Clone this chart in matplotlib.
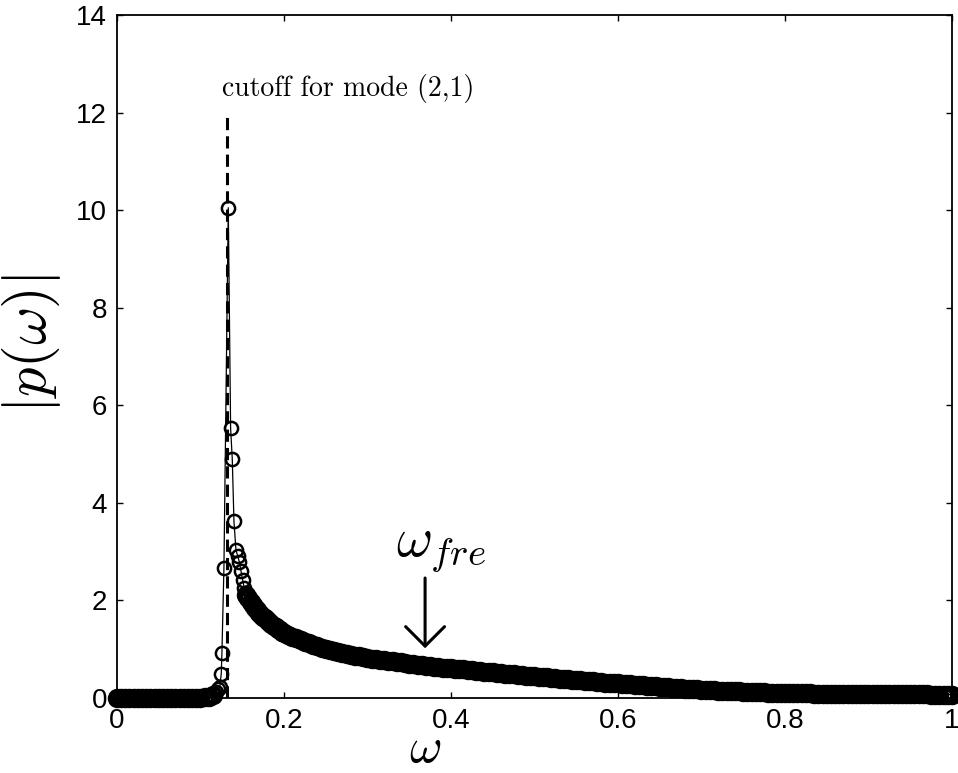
import matplotlib.pyplot as plt
import numpy as np

plt.rcParams["mathtext.fontset"] = "cm"

# flat part below cutoff, sampled every 0.005 from 0
p_flat = [0.0, 0.0, 0.0, 0.0, 0.0, 0.0, 0.0, 0.0, 0.0, 0.0,
          0.0, 0.0, 0.0, 0.0, 0.0, 0.0, 0.0, 0.0, 0.0, 0.0,
          0.01, 0.02, 0.03, 0.06]

# points around the resonance
w_peak = [0.118, 0.121, 0.123, 0.1249, 0.1257, 0.1281, 0.1333, 0.1361,
          0.1381, 0.1401, 0.1425, 0.1445, 0.1465, 0.1485, 0.1505, 0.1525]
p_peak = [0.12, 0.18, 0.22, 0.5, 0.93, 2.67, 10.05, 5.53,
          4.89, 3.62, 3.03, 2.92, 2.79, 2.6, 2.42, 2.25]

# steep part of the tail, every 0.0025 from 0.155
p_tail1 = [2.12, 2.04, 1.97, 1.91, 1.85, 1.80, 1.75, 1.71, 1.67, 1.63,
           1.59, 1.55, 1.51, 1.48, 1.45, 1.42, 1.39, 1.36, 1.33]

# slow decay, every 0.005 from 0.205
p_tail2 = [1.29, 1.25, 1.22, 1.18, 1.15, 1.12, 1.09, 1.06, 1.035, 1.01,
           0.99, 0.97, 0.95, 0.93, 0.91, 0.89, 0.87, 0.855, 0.84, 0.82,
           0.81, 0.795, 0.78, 0.77, 0.76, 0.75, 0.74, 0.73, 0.715, 0.70,
           0.69, 0.68, 0.67, 0.66, 0.65, 0.645, 0.635, 0.625, 0.62, 0.61,
           0.60, 0.59, 0.585, 0.575, 0.565, 0.555, 0.55, 0.54, 0.535, 0.53,
           0.52, 0.51, 0.50, 0.495, 0.485, 0.48, 0.47, 0.46, 0.455, 0.45,
           0.44, 0.43, 0.425, 0.415, 0.41, 0.40, 0.39, 0.385, 0.375, 0.37,
           0.36, 0.355, 0.345, 0.34, 0.33, 0.325, 0.315, 0.31, 0.305, 0.30,
           0.29, 0.285, 0.28, 0.27, 0.265, 0.26, 0.25, 0.245, 0.24, 0.23,
           0.225, 0.22, 0.215, 0.21, 0.20, 0.195, 0.19, 0.185, 0.18, 0.17,
           0.166, 0.162, 0.158, 0.154, 0.15, 0.146, 0.142, 0.138, 0.134, 0.13,
           0.127, 0.124, 0.121, 0.118, 0.115, 0.112, 0.11, 0.106, 0.103, 0.10,
           0.098, 0.097, 0.096, 0.095, 0.094, 0.093, 0.092, 0.091, 0.09, 0.09,
           0.089, 0.088, 0.087, 0.086, 0.085, 0.084, 0.083, 0.082, 0.081, 0.08,
           0.079, 0.079, 0.078, 0.078, 0.077, 0.077, 0.076, 0.076, 0.075, 0.075,
           0.074, 0.074, 0.073, 0.073, 0.072, 0.072, 0.071, 0.071, 0.07, 0.07]

w_flat = np.round(0.005 * np.arange(len(p_flat)), 4)
w_tail1 = np.round(0.155 + 0.0025 * np.arange(len(p_tail1)), 4)
w_tail2 = np.round(0.205 + 0.005 * np.arange(len(p_tail2)), 4)

w_dense = np.concatenate([w_flat, w_tail1, w_tail2])
p_dense = np.concatenate([p_flat, p_tail1, p_tail2])
w = np.concatenate([w_flat, w_peak, w_tail1, w_tail2])
p = np.concatenate([p_flat, p_peak, p_tail1, p_tail2])

w_cut = 0.1314
cut_top = 12
w_fre = 0.369

fig = plt.figure(figsize=(9.58, 7.73), dpi=100)
ax = fig.add_axes([0.1221, 0.097, 0.8716, 0.8836])

ax.vlines(w_cut, 0, cut_top, colors="k", linestyles=(0, (4, 2)), linewidth=2.2)
ax.plot(w, p, "-", color="k", lw=0.9, clip_on=False)
ax.plot(w_dense, p_dense, "o", color="k", ms=11, mfc="none", mew=3, clip_on=False)
ax.plot(w_peak, p_peak, "o", color="k", ms=9.5, mfc="none", mew=1.8, clip_on=False)

ax.text(0.1257, 12.34, "cutoff for mode (2,1)", fontfamily="cmr10",
        fontsize=20, va="baseline")
ax.annotate("", xy=(w_fre, 1.02), xytext=(w_fre, 2.46),
            arrowprops=dict(arrowstyle="->,head_length=0.7,head_width=0.7",
                            lw=2.2, color="k", mutation_scale=20,
                            shrinkA=0, shrinkB=0))
ax.text(0.388, 2.93, r"$\omega_{fre}$", fontsize=40, ha="center", va="baseline")

ax.set_xlim(0, 1)
ax.set_ylim(0, 14)
ax.set_xticks([0, 0.2, 0.4, 0.6, 0.8, 1])
ax.set_xticklabels(["0", "0.2", "0.4", "0.6", "0.8", "1"])
ax.set_yticks(np.arange(0, 15, 2))
ax.tick_params(direction="in", length=4, width=1, top=True, right=True,
               labelsize=20, pad=7)
for lab in ax.get_xticklabels() + ax.get_yticklabels():
    lab.set_fontfamily("Liberation Sans")
for s in ax.spines.values():
    s.set_linewidth(1.3)

ax.set_xlabel(r"$\omega$", fontsize=36)
ax.xaxis.set_label_coords(0.369, -0.038)
ax.set_ylabel(r"$|p(\omega)|$", fontsize=42)
ax.yaxis.set_label_coords(-0.065, 0.518)

fig.savefig("out.png", dpi=100)
